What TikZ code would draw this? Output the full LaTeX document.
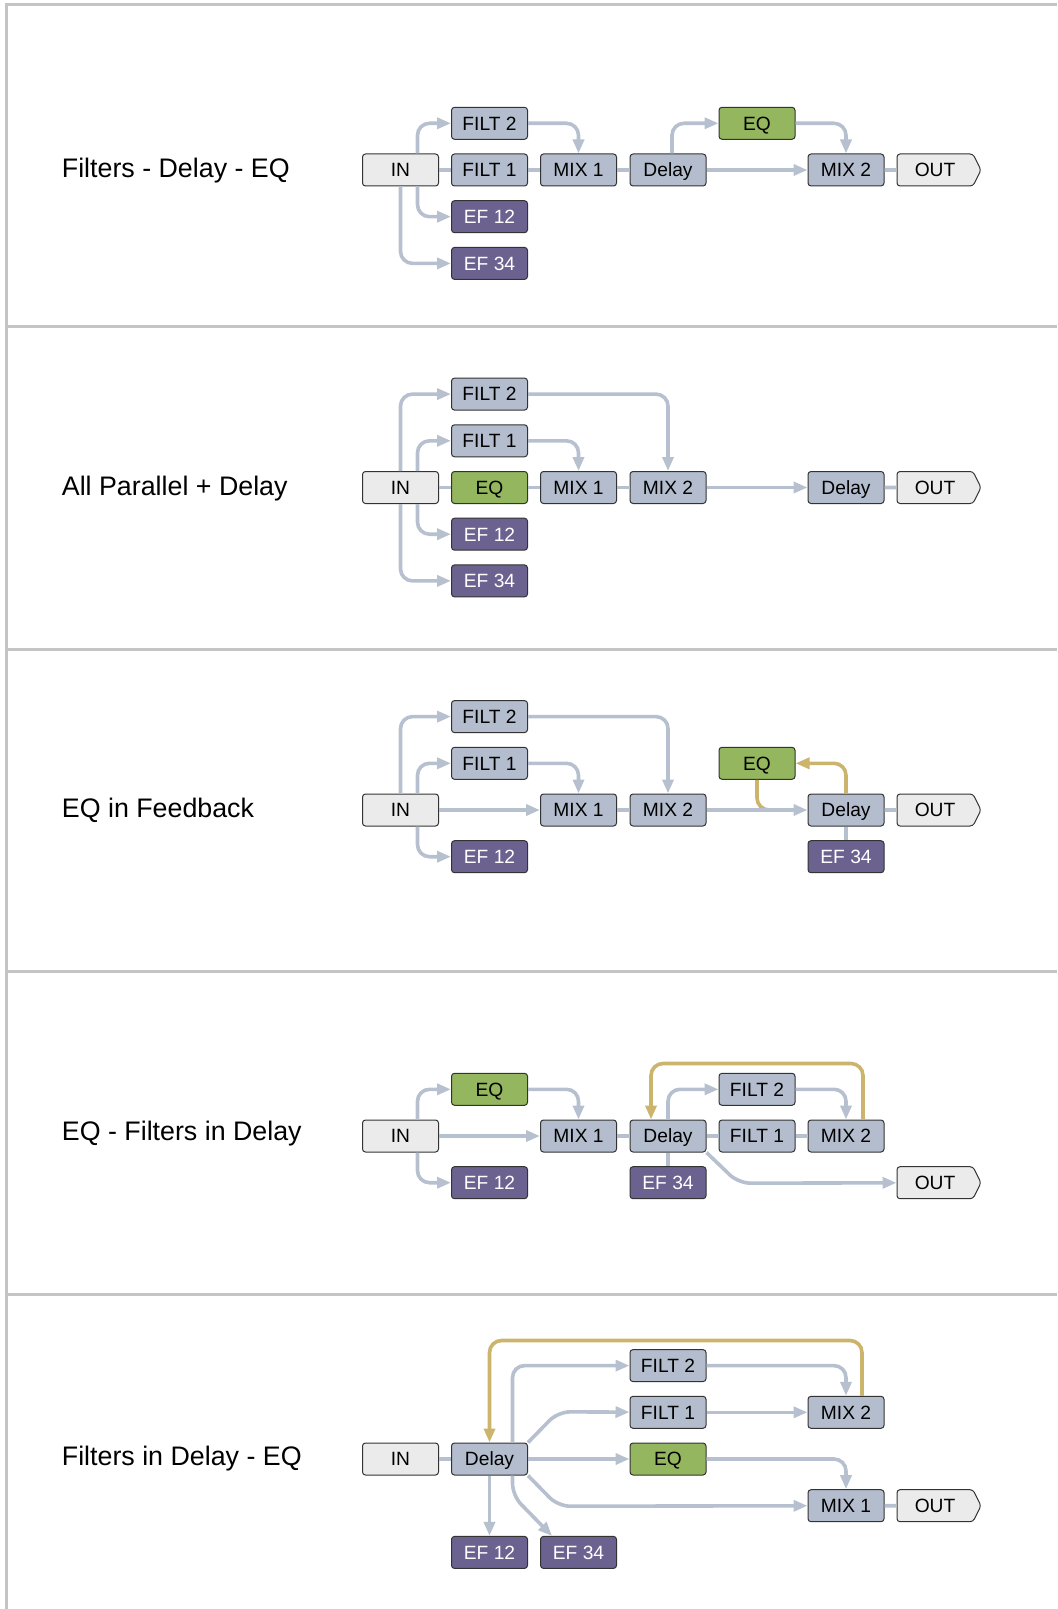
\documentclass[tikz,border=0pt]{standalone}
\usepackage{fontspec}
\setmainfont{Liberation Sans}
\usetikzlibrary{arrows.meta,calc,shapes.symbols}

\definecolor{boxgray}{HTML}{B3BDCD}
\definecolor{boxlight}{HTML}{EBEBEB}
\definecolor{efpurple}{HTML}{6B6290}
\definecolor{eqgreen}{HTML}{93B65E}
\definecolor{wirec}{HTML}{B7C0CF}
\definecolor{fbgold}{HTML}{CCB46C}
\definecolor{framec}{HTML}{C4C4C4}

\begin{document}
\begin{tikzpicture}[x=0.5pt,y=-0.5pt]
    \tikzstyle{every node}=[font=\fontsize{9.6}{11}\selectfont]
    \tikzstyle{box}=[draw=black!80, line width=0.5pt, rounded corners=1.5pt, minimum width=38pt, minimum height=16pt, inner sep=0pt, text height=7.6pt, text depth=0.8pt, fill=boxgray]
    \tikzstyle{io}=[box, fill=boxlight]
    \tikzstyle{outbox}=[io, shape=signal, signal to=east, signal pointer angle=127, minimum width=42pt, anchor=west]
    \tikzstyle{ef}=[box, fill=efpurple, text=white]
    \tikzstyle{eqbox}=[box, fill=eqgreen]
    \tikzstyle{wire}=[draw=wirec, line width=1.8pt, rounded corners=6pt]
    \tikzstyle{feed}=[wire, draw=fbgold]
    \tikzstyle{arr}=[-{Triangle[length=7pt,width=5.5pt]}]
    \tikzstyle{sectitle}=[anchor=base west, inner sep=0pt, font=\fontsize{13.4}{16}\selectfont]
    \tikzstyle{sepline}=[draw=framec, line width=1.5pt]

    \useasboundingbox (0,0) rectangle (1057,1609);
    % frame and separators
    \draw[sepline] (6.5,1609) -- (6.5,4.5) -- (1057,4.5);
    \foreach \y in {326.5,649,971.5,1294}
        \draw[sepline] (6.5,\y) -- (1057,\y);

    % Filters - Delay - EQ
    \begin{scope}[shift={(0,170)}]
        \node[sectitle] (titleA) at (61.5,7.3) {Filters - Delay - EQ};
        \node[io] (inA) at (400.5,0) {IN};
        \node[box] (filt2A) at (489.5,-46.7) {FILT 2};
        \node[box] (filt1A) at (489.5,0) {FILT 1};
        \node[ef] (ef12A) at (489.5,46.7) {EF 12};
        \node[ef] (ef34A) at (489.5,93.4) {EF 34};
        \node[box] (mix1A) at (578.5,0) {MIX 1};
        \node[box] (delayA) at (668,0) {Delay};
        \node[eqbox] (eqA) at (757,-46.7) {EQ};
        \node[box] (mix2A) at (846,0) {MIX 2};
        \node[outbox] (outA) at (896.5,0) {OUT};
        \draw[wire] (inA) -- (filt1A);
        \draw[wire,arr] ($(inA.north)+(17,0)$) |- (filt2A);
        \draw[wire,arr] ($(inA.south)+(17,0)$) |- (ef12A);
        \draw[wire,arr] (inA) |- (ef34A);
        \draw[wire] (filt1A) -- (mix1A);
        \draw[wire,arr] (filt2A) -| (mix1A);
        \draw[wire] (mix1A) -- (delayA);
        \draw[wire,arr] ($(delayA.north)+(4,0)$) |- (eqA);
        \draw[wire,arr] (eqA) -| (mix2A);
        \draw[wire,arr] (delayA) -- (mix2A);
        \draw[wire] (mix2A) -- (outA);
    \end{scope}

    % All Parallel + Delay
    \begin{scope}[shift={(0,487.5)}]
        \node[sectitle] (titleB) at (61.5,7.7) {All Parallel + Delay};
        \node[io] (inB) at (400.5,0) {IN};
        \node[box] (filt2B) at (489.5,-93.4) {FILT 2};
        \node[box] (filt1B) at (489.5,-46.7) {FILT 1};
        \node[eqbox] (eqB) at (489.5,0) {EQ};
        \node[ef] (ef12B) at (489.5,46.7) {EF 12};
        \node[ef] (ef34B) at (489.5,93.4) {EF 34};
        \node[box] (mix1B) at (578.5,0) {MIX 1};
        \node[box] (mix2B) at (668,0) {MIX 2};
        \node[box] (delayB) at (846,0) {Delay};
        \node[outbox] (outB) at (896.5,0) {OUT};
        \draw[wire,arr] (inB) |- (filt2B);
        \draw[wire,arr] ($(inB.north)+(17,0)$) |- (filt1B);
        \draw[wire,arr] ($(inB.south)+(17,0)$) |- (ef12B);
        \draw[wire,arr] (inB) |- (ef34B);
        \draw[wire] (inB) -- (eqB);
        \draw[wire] (eqB) -- (mix1B);
        \draw[wire] (mix1B) -- (mix2B);
        \draw[wire,arr] (filt2B) -| (mix2B);
        \draw[wire,arr] (filt1B) -| (mix1B);
        \draw[wire,arr] (mix2B) -- (delayB);
        \draw[wire] (delayB) -- (outB);
    \end{scope}

    % EQ in Feedback
    \begin{scope}[shift={(0,810)}]
        \node[sectitle] (titleC) at (61.5,7.5) {EQ in Feedback};
        \node[io] (inC) at (400.5,0) {IN};
        \node[box] (filt2C) at (489.5,-93.4) {FILT 2};
        \node[box] (filt1C) at (489.5,-46.7) {FILT 1};
        \node[ef] (ef12C) at (489.5,46.7) {EF 12};
        \node[box] (mix1C) at (578.5,0) {MIX 1};
        \node[box] (mix2C) at (668,0) {MIX 2};
        \node[eqbox] (eqC) at (757,-46.7) {EQ};
        \node[box] (delayC) at (846,0) {Delay};
        \node[ef] (ef34C) at (846,46.7) {EF 34};
        \node[outbox] (outC) at (896.5,0) {OUT};
        \coordinate (joinC) at (782,0);
        \draw[wire,arr] (inC) |- (filt2C);
        \draw[wire,arr] ($(inC.north)+(17,0)$) |- (filt1C);
        \draw[wire,arr] ($(inC.south)+(17,0)$) |- (ef12C);
        \draw[wire,arr] (inC) -- (mix1C);
        \draw[wire,arr] (filt2C) -| (mix2C);
        \draw[wire,arr] (filt1C) -| (mix1C);
        \draw[wire] (mix1C) -- (mix2C);
        \draw[feed] (eqC) |- (joinC);
        \draw[feed,arr] (delayC) |- (eqC);
        \draw[wire,arr] (mix2C) -- (delayC);
        \draw[wire] (delayC) -- (outC);
        \draw[wire] (delayC) -- (ef34C);
    \end{scope}

    % EQ - Filters in Delay
    \begin{scope}[shift={(0,1136)}]
        \node[sectitle] (titleD) at (61.5,4) {EQ - Filters in Delay};
        \node[io] (inD) at (400.5,0) {IN};
        \node[eqbox] (eqD) at (489.5,-46.7) {EQ};
        \node[ef] (ef12D) at (489.5,46.7) {EF 12};
        \node[box] (mix1D) at (578.5,0) {MIX 1};
        \node[box] (delayD) at (668,0) {Delay};
        \node[ef] (ef34D) at (668,46.7) {EF 34};
        \node[box] (filt2D) at (757,-46.7) {FILT 2};
        \node[box] (filt1D) at (757,0) {FILT 1};
        \node[box] (mix2D) at (846,0) {MIX 2};
        \node[outbox] (outD) at (896.5,46.7) {OUT};
        \draw[wire,arr] ($(inD.north)+(17,0)$) |- (eqD);
        \draw[wire,arr] ($(inD.south)+(17,0)$) |- (ef12D);
        \draw[wire,arr] (inD) -- (mix1D);
        \draw[wire,arr] (eqD) -| (mix1D);
        \draw[wire] (mix1D) -- (delayD);
        \draw[wire] (delayD) -- (filt1D);
        \draw[wire] (filt1D) -- (mix2D);
        \draw[wire] (delayD) -- (ef34D);
        \draw[wire,arr] (delayD) |- (filt2D);
        \draw[wire,arr] (filt2D) -| (mix2D);
        \draw[feed,arr] ($(mix2D.north)+(17,0)$) -- ++(0,-56) -| ($(delayD.north)+(-17,0)$);
        \draw[wire,arr] (delayD.south east) -- ++(32,30.7) -- (outD);
    \end{scope}

    % Filters in Delay - EQ
    \begin{scope}[shift={(0,1459)}]
        \node[sectitle] (titleE) at (61.5,6.9) {Filters in Delay - EQ};
        \node[io] (inE) at (400.5,0) {IN};
        \node[box] (delayE) at (489.5,0) {Delay};
        \node[ef] (ef12E) at (489.5,93.4) {EF 12};
        \node[ef] (ef34E) at (578.5,93.4) {EF 34};
        \node[box] (filt2E) at (668,-93.4) {FILT 2};
        \node[box] (filt1E) at (668,-46.7) {FILT 1};
        \node[eqbox] (eqE) at (668,0) {EQ};
        \node[box] (mix2E) at (846,-46.7) {MIX 2};
        \node[box] (mix1E) at (846,46.7) {MIX 1};
        \node[outbox] (outE) at (896.5,46.7) {OUT};
        \draw[wire] (inE) -- (delayE);
        \draw[wire,arr] (delayE) -- (ef12E);
        \draw[wire,arr] ($(delayE.north)+(23,0)$) |- (filt2E);
        \draw[wire,arr] ($(delayE.south)+(23,0)$) -- ++(0,20) -- ($(ef34E.north west)+(12,0)$);
        \draw[wire,arr] (delayE.north east) -- ++(30,-30.7) -- (filt1E);
        \draw[wire,arr] (delayE) -- (eqE);
        \draw[wire,arr] (delayE.south east) -- ++(30,30.7) -- (mix1E);
        \draw[wire,arr] (filt2E) -| (mix2E);
        \draw[wire,arr] (filt1E) -- (mix2E);
        \draw[wire,arr] (eqE) -| (mix1E);
        \draw[wire] (mix1E) -- (outE);
        \draw[feed,arr] ($(mix2E.north)+(16,0)$) -- ++(0,-55.3) -| (delayE);
    \end{scope}
\end{tikzpicture}
\end{document}
